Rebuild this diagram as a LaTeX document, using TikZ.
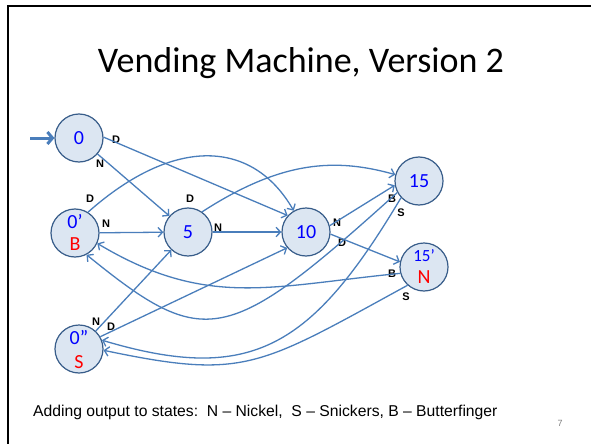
\documentclass[tikz,border=0pt]{standalone}
\usepackage{fontspec}
\setmainfont{Carlito}
\newfontfamily\arialfont{Liberation Sans}
\usetikzlibrary{arrows.meta}
\definecolor{edgeblue}{HTML}{4A7EBB}
\definecolor{ringblue}{HTML}{385D8A}
\definecolor{fillblue}{HTML}{DCE6F2}
\definecolor{numblue}{HTML}{0000FF}
\definecolor{outred}{HTML}{FF0000}
\begin{document}
\begin{tikzpicture}[x=1pt,y=-1pt,
  state/.style={circle, draw=ringblue, fill=fillblue, line width=1.2pt,
    minimum size=48pt, inner sep=0pt},
  numtxt/.style={text=numblue, inner sep=0pt, font=\fontsize{20}{22}\selectfont},
  outtxt/.style={text=outred, inner sep=0pt, font=\fontsize{20}{22}\selectfont},
  edge/.style={draw=edgeblue, line width=1.3pt,
    -{Straight Barb[length=4.5pt,width=9.5pt]}},
  lbl/.style={inner sep=0pt, font=\arialfont\bfseries\fontsize{11}{13}\selectfont}]
\useasboundingbox (0,0) rectangle (594,444);
\fill[white] (0,0) rectangle (594,444);
% slide frame
\draw[line width=2pt] (8,444) -- (8,6) -- (591,6);

% title and footer
\node[anchor=base, inner sep=0pt, font=\fontsize{36}{40}\selectfont] (title) at (301,72)
  {Vending Machine, Version 2};
\node[anchor=base west, inner sep=0pt, font=\arialfont\fontsize{15.7}{18}\selectfont] (foot) at (33,416)
  {Adding output to states:\ \ N – Nickel,\ \ S – Snickers, B – Butterfinger};
\node[text=gray, inner sep=0pt, font=\arialfont\fontsize{9}{10}\selectfont] (pagenum) at (560,423) {7};

% states
\node[state] (n0) at (79,138) {};
\node[numtxt] (l0) at (n0) {0};
\node[state] (n0p) at (75,233) {};
\node[numtxt] (l0p) at (75,222) {0’};
\node[outtxt] (o0p) at (75,244) {B};
\node[state] (n5) at (188,232) {};
\node[numtxt] (l5) at (n5) {5};
\node[state] (n10) at (306,232) {};
\node[numtxt] (l10) at (n10) {10};
\node[state] (n15) at (419,181) {};
\node[numtxt] (l15) at (n15) {15};
\node[state] (n15p) at (424,267) {};
\node[numtxt, font=\fontsize{17}{19}\selectfont] (l15p) at (424,256) {15’};
\node[outtxt] (o15p) at (424,277) {N};
\node[state] (n0pp) at (79,349) {};
\node[numtxt] (l0pp) at (79,338) {0”};
\node[outtxt] (o0pp) at (79,362) {S};

% edge labels
\node[lbl] (k1) at (116,140) {D};
\node[lbl] (k2) at (100,164) {N};
\node[lbl] (k3) at (90,199) {D};
\node[lbl] (k4) at (106,224) {N};
\node[lbl] (k5) at (190,199) {D};
\node[lbl] (k6) at (218,228) {N};
\node[lbl] (k7) at (337,223) {N};
\node[lbl] (k8) at (342,243) {D};
\node[lbl] (k9) at (392,199) {B};
\node[lbl] (k10) at (401,213) {S};
\node[lbl] (k11) at (392,274) {B};
\node[lbl] (k12) at (406,297) {S};
\node[lbl] (k13) at (96,322) {N};
\node[lbl] (k14) at (111,327) {D};

% start arrow
\coordinate (start) at (30,138);
\draw[draw=edgeblue, line width=3pt, -{Straight Barb[length=5pt,width=12pt]}] (start) -- (n0.west);

% transitions
\draw[edge] (n0) -- (n5);
\draw[edge] (n0.2) -- (n10.138);
\draw[edge] (n0p) -- (n5);
\draw[edge] (n5) -- (n10);
\draw[edge] (n10.15) -- (n15.190);
\draw[edge] (n10.-5) -- (n15p.168);
\draw[edge] (n0pp) -- (n5);
\draw[edge] (n0pp.30) -- (n10.220);
\draw[edge] (n0p.58) .. controls (175,135) and (253,140) .. (n10.120);
\draw[edge] (n5.55) .. controls (282,160) and (336,158) .. (n15.165);
\draw[edge] (n15.208) .. controls (227,346) and (205,351) .. (n0p.-62);
\draw[edge] (n15p.195) .. controls (271,286) and (207,309) .. (n0p.-25);
\draw[edge] (n15.223) .. controls (312,347) and (252,385) .. (n0pp.21);
\draw[edge] (n15p.228) .. controls (258,367) and (245,380) .. (n0pp.-3);
\end{tikzpicture}
\end{document}
